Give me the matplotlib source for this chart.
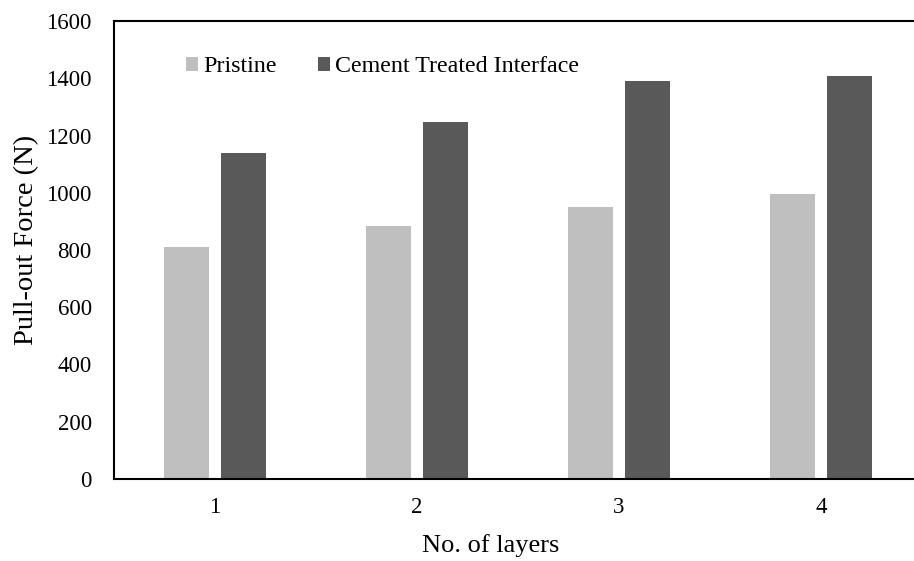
import matplotlib
matplotlib.use("Agg")
import matplotlib.pyplot as plt
import numpy as np

categories = ["1", "2", "3", "4"]
pristine = [812, 884, 949, 995]
cement = [1138, 1246, 1390, 1408]
series_names = ["Pristine", "Cement Treated Interface"]
yticks = [0, 200, 400, 600, 800, 1000, 1200, 1400, 1600]

plt.rcParams['font.family'] = ['Liberation Serif', 'DejaVu Serif']

fig = plt.figure(figsize=(9.14, 5.61), dpi=100)
W, H = 914, 561
left, right, top, bottom = 114, 114 + 808, 21, 479
ax = fig.add_axes([left / W, (H - bottom) / H, (right - left) / W, (bottom - top) / H])

x = np.arange(len(categories))
bw = 0.22
off = 0.141
ax.bar(x - off, pristine, bw, color="#BFBFBF", label=series_names[0])
ax.bar(x + off, cement, bw, color="#595959", label=series_names[1])

ax.set_xlim(-0.5, 3.5)
ax.set_ylim(0, 1600)
ax.set_yticks(yticks)
ax.set_xticks(x)
ax.set_xticklabels(categories)
ax.tick_params(axis='both', length=0, labelsize=16.5)
ax.tick_params(axis='y', pad=16)
ax.tick_params(axis='x', pad=13)

for s in ["left", "bottom", "top"]:
    ax.spines[s].set_linewidth(1.5)
    ax.spines[s].set_color("black")
ax.spines["right"].set_visible(False)

ax.set_xlabel("No. of layers", fontsize=19, va="center")
ax.xaxis.set_label_coords((491 - left) / 808, (bottom - 546) / 458)
ax.set_ylabel("Pull-out Force (N)", fontsize=20.5, va="center")
ax.yaxis.set_label_coords((27 - left) / 808, (bottom - 240) / 458)

leg = ax.legend(loc="upper left", bbox_to_anchor=(0.062, 0.97), ncol=2, frameon=False,
                fontsize=17.3, handlelength=0.51, handleheight=0.51, handletextpad=0.2,
                columnspacing=1.74)

fig.savefig("out.png", dpi=100)
